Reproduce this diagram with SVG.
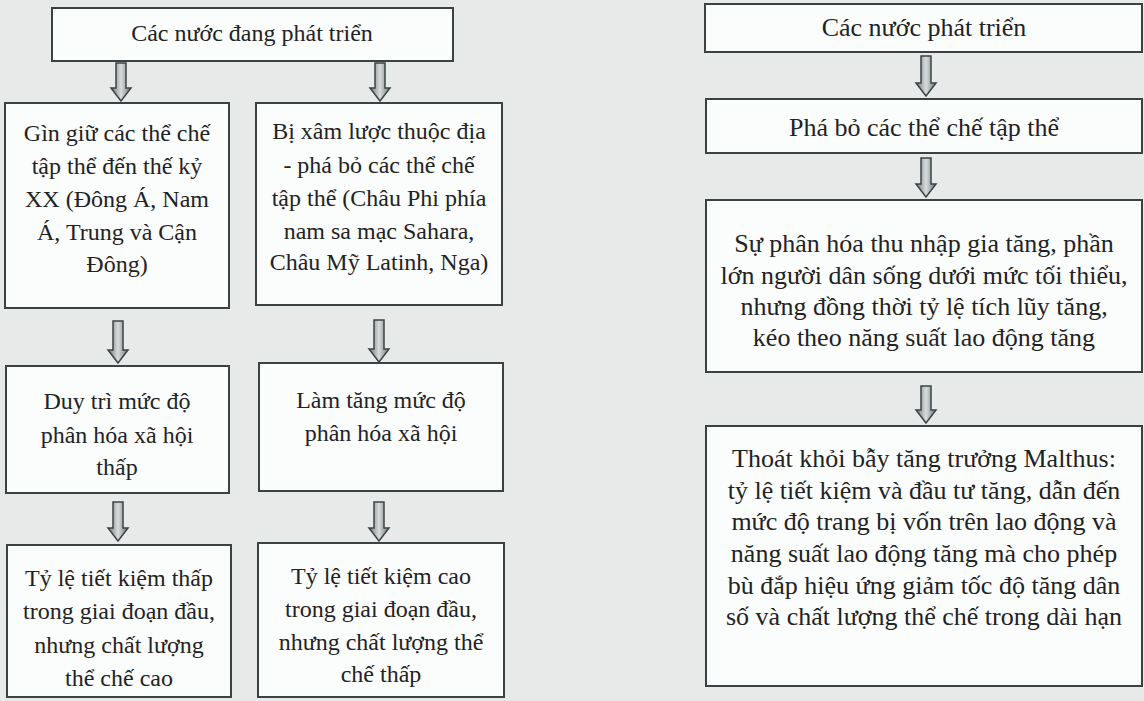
<svg xmlns="http://www.w3.org/2000/svg" width="1144" height="701" viewBox="0 0 1144 701">
<defs>
<linearGradient id="ag" x1="0" y1="0" x2="1" y2="0">
<stop offset="0" stop-color="#6f7577"/>
<stop offset="0.5" stop-color="#d9dcdc"/>
<stop offset="1" stop-color="#6f7577"/>
</linearGradient>
<style>
.box{fill:#fbfcfc;stroke:#3b4244;stroke-width:2}
.t{font-family:"Liberation Serif","Times New Roman",serif;font-size:24px;fill:#1f2324;text-anchor:middle}
.r{font-size:26px}
.arr{fill:url(#ag);stroke:#3d4446;stroke-width:1.5;stroke-linejoin:miter}
</style>
</defs>
<rect width="1144" height="701" fill="#e8eaea"/>

<g id="connectors">
<path class="arr" d="M116 63H126V88H131L121 101L111 88H116Z"/>
<path class="arr" d="M375 63H385V88H390L380 101L370 88H375Z"/>
<path class="arr" d="M113 321H123V350H128L118 363L108 350H113Z"/>
<path class="arr" d="M374 320H384V349H389L379 362L369 349H374Z"/>
<path class="arr" d="M113 502H123V528H128L118 541L108 528H113Z"/>
<path class="arr" d="M374 502H384V528H389L379 541L369 528H374Z"/>
<path class="arr" d="M921 56H931V83H936L926 96L916 83H921Z"/>
<path class="arr" d="M921 158H931V184H936L926 197L916 184H921Z"/>
<path class="arr" d="M921 386H931V410H936L926 423L916 410H921Z"/>
</g>

<g id="dev-title">
<rect class="box" x="52" y="8" width="401" height="53"/>
<text class="t" x="252" y="41">Các nước đang phát triển</text>
</g>
<g id="keep-institutions">
<rect class="box" x="5" y="103" width="224" height="205"/>
<text class="t" x="117" y="141">Gìn giữ các thể chế</text>
<text class="t" x="117" y="174">tập thể đến thế kỷ</text>
<text class="t" x="117" y="207">XX (Đông Á, Nam</text>
<text class="t" x="117" y="240">Á, Trung và Cận</text>
<text class="t" x="117" y="272">Đông)</text>
</g>
<g id="colonized">
<rect class="box" x="256" y="103" width="246" height="202"/>
<text class="t" x="379" y="139">Bị xâm lược thuộc địa</text>
<text class="t" x="379" y="173">- phá bỏ các thể chế</text>
<text class="t" x="379" y="206">tập thể (Châu Phi phía</text>
<text class="t" x="379" y="239">nam sa mạc Sahara,</text>
<text class="t" x="379" y="270">Châu Mỹ Latinh, Nga)</text>
</g>
<g id="low-diff">
<rect class="box" x="6" y="366" width="223" height="127"/>
<text class="t" x="117" y="409">Duy trì mức độ</text>
<text class="t" x="117" y="443">phân hóa xã hội</text>
<text class="t" x="117" y="475">thấp</text>
</g>
<g id="high-diff">
<rect class="box" x="259" y="363" width="244" height="128"/>
<text class="t" x="381" y="408">Làm tăng mức độ</text>
<text class="t" x="381" y="441">phân hóa xã hội</text>
</g>
<g id="low-saving">
<rect class="box" x="7" y="545" width="224" height="152"/>
<text class="t" x="119" y="586">Tỷ lệ tiết kiệm thấp</text>
<text class="t" x="119" y="619">trong giai đoạn đầu,</text>
<text class="t" x="119" y="653">nhưng chất lượng</text>
<text class="t" x="119" y="686">thể chế cao</text>
</g>
<g id="high-saving">
<rect class="box" x="258" y="543" width="246" height="154"/>
<text class="t" x="381" y="584">Tỷ lệ tiết kiệm cao</text>
<text class="t" x="381" y="617">trong giai đoạn đầu,</text>
<text class="t" x="381" y="650">nhưng chất lượng thể</text>
<text class="t" x="381" y="682">chế thấp</text>
</g>

<g id="developed-title">
<rect class="box" x="705" y="4" width="437" height="48"/>
<text class="t r" x="924" y="36">Các nước phát triển</text>
</g>
<g id="abolish">
<rect class="box" x="706" y="99" width="436" height="54"/>
<text class="t r" x="924" y="136">Phá bỏ các thể chế tập thể</text>
</g>
<g id="income-diff">
<rect class="box" x="706" y="200" width="436" height="172"/>
<text class="t r" x="924" y="252">Sự phân hóa thu nhập gia tăng, phần</text>
<text class="t r" x="924" y="284">lớn người dân sống dưới mức tối thiểu,</text>
<text class="t r" x="924" y="315">nhưng đồng thời tỷ lệ tích lũy tăng,</text>
<text class="t r" x="924" y="346">kéo theo năng suất lao động tăng</text>
</g>
<g id="escape-malthus">
<rect class="box" x="706" y="426" width="436" height="260"/>
<text class="t r" x="924" y="467">Thoát khỏi bẫy tăng trưởng Malthus:</text>
<text class="t r" x="924" y="499">tỷ lệ tiết kiệm và đầu tư tăng, dẫn đến</text>
<text class="t r" x="924" y="530">mức độ trang bị vốn trên lao động và</text>
<text class="t r" x="924" y="562">năng suất lao động tăng mà cho phép</text>
<text class="t r" x="924" y="594">bù đắp hiệu ứng giảm tốc độ tăng dân</text>
<text class="t r" x="924" y="625">số và chất lượng thể chế trong dài hạn</text>
</g>
</svg>
